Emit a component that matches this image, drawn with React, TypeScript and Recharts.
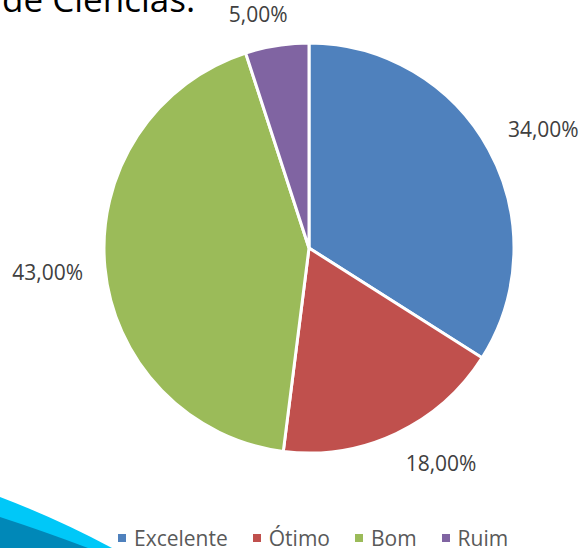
import { Cell, Legend, Pie, PieChart } from "recharts";

const categories = ["Excelente", "Ótimo", "Bom", "Ruim"];
const shares = [34, 18, 43, 5];
const colors = ["#4F81BD", "#C0504D", "#9BBB59", "#8064A2"];

const data = categories.map((name, i) => ({ name, value: shares[i] }));

const FONT = "'Open Sans', 'Noto Sans', sans-serif";
const RAD = Math.PI / 180;

function fmtPct(v: number) {
  return `${v.toFixed(2).replace(".", ",")}%`;
}

const clamp = (t: number) => Math.max(-1, Math.min(1, t));

// outside-end label: box pushed off the rim toward its corner, softer near the vertical
function renderLabel(props: any) {
  const { cx, cy, midAngle, outerRadius, value } = props;
  const text = fmtPct(Number(value));
  const halfW = (text.length * 11.8) / 2;
  const halfH = 10;
  const c = Math.cos(midAngle * RAD);
  const s = Math.sin(midAngle * RAD);
  const r = outerRadius + 22;
  const x = cx + r * c + halfW * clamp(c * 3.3);
  const y = cy - r * s - halfH * clamp(s * 3.3);
  return (
    <text x={x} y={y} textAnchor="middle" dominantBaseline="central" fill="#404040" fontSize={21} fontFamily={FONT}>
      {text}
    </text>
  );
}

function renderLegend() {
  return (
    <div style={{ display: "flex", paddingLeft: 118, fontFamily: FONT, fontSize: 21, color: "#595959", lineHeight: "20px" }}>
      {categories.map((name, i) => (
        <div key={name} style={{ display: "flex", alignItems: "center", marginRight: 25 }}>
          <i style={{ width: 8, height: 8, background: colors[i], marginRight: 8, display: "inline-block" }} />
          <span>{name}</span>
        </div>
      ))}
    </div>
  );
}

export default function App() {
  return (
    <div style={{ position: "absolute", left: 0, top: 0, width: 583, height: 548, overflow: "hidden", background: "#fff" }}>
      <svg width={583} height={548} style={{ position: "absolute", left: 0, top: 0 }}>
        <path d="M0,497 Q58,519 112,548 L0,548 Z" fill="#00C8F8" />
        <path d="M0,517 Q46,532 88,548 L0,548 Z" fill="#0088B8" />
        <text x={2} y={12} fontSize={35} fontFamily={FONT} fill="#000">de Ciências.</text>
      </svg>
      <div style={{ position: "absolute", left: 0, top: 0 }}>
        <PieChart width={583} height={548} margin={{ top: 0, right: 0, bottom: 0, left: 0 }}>
          <Pie
            data={data}
            dataKey="value"
            nameKey="name"
            cx={309}
            cy={248}
            outerRadius={205}
            startAngle={90}
            endAngle={-270}
            stroke="#fff"
            strokeWidth={3}
            label={renderLabel}
            labelLine={false}
            isAnimationActive={false}
          >
            {data.map((d, i) => (
              <Cell key={d.name} fill={colors[i]} />
            ))}
          </Pie>
          <Legend content={renderLegend} wrapperStyle={{ left: 0, top: 528, width: 583 }} />
        </PieChart>
      </div>
    </div>
  );
}
